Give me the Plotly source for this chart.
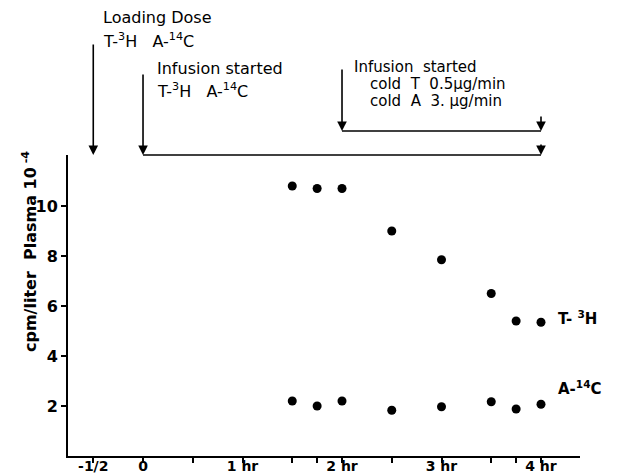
import plotly.graph_objects as go

# ---- data ----
times = [1.5, 1.75, 2.0, 2.5, 3.0, 3.5, 3.75, 4.0]
t3h = [10.8, 10.7, 10.7, 9.0, 7.85, 6.5, 5.4, 5.35]
a14c = [2.2, 2.0, 2.2, 1.83, 1.97, 2.17, 1.88, 2.07]

xtick_vals = [-0.5, 0, 0.5, 1, 1.5, 1.75, 2, 2.5, 3, 3.5, 3.75, 4]
xtick_text = ["-1/2", "0", "", "1 hr", "", "", "2 hr", "", "3 hr", "", "", "4 hr"]
ytick_vals = [2, 4, 6, 8, 10]

W, H = 617, 475
L, R, T, B = 68, 37, 155, 19
FONT = "DejaVu Sans"

def px(x):  # pixel -> paper x
    return (x - L) / (W - L - R)

def py(y):  # pixel -> paper y
    return (H - B - y) / (H - T - B)

fig = go.Figure()
fig.add_trace(go.Scatter(x=times, y=t3h, mode="markers",
                         marker=dict(color="black", size=9), name="T-3H"))
fig.add_trace(go.Scatter(x=times, y=a14c, mode="markers",
                         marker=dict(color="black", size=9), name="A-14C"))

ann = []
def text(x, y, s, size=16, weight="normal"):
    ann.append(dict(xref="paper", yref="paper", x=px(x), y=py(y), text=s,
                    showarrow=False, xanchor="left", yanchor="middle",
                    font=dict(family=FONT, size=size, color="black", weight=weight)))

def arrow(t, y_tip, y_tail):
    ann.append(dict(xref="x", yref="paper", x=t, y=py(y_tip), ax=0,
                    ay=y_tail - y_tip, axref="pixel", ayref="pixel",
                    showarrow=True, arrowhead=2, arrowsize=1.2, arrowwidth=1.6,
                    arrowcolor="black", text=""))

text(101, 17, "Loading Dose")
text(101, 40, "T-<sup>3</sup>H   A-<sup>14</sup>C")
text(155, 69, "Infusion started")
text(155, 91, "T-<sup>3</sup>H   A-<sup>14</sup>C")
text(352, 67, "Infusion  started", size=15)
text(368, 84, "cold  T  0.5\u03bcg/min", size=15)
text(368, 101, "cold  A  3. \u03bcg/min", size=15)
text(556, 318, "T- <sup>3</sup>H", weight="bold", size=15)
text(556, 388, "A-<sup>14</sup>C", weight="bold", size=15)

arrow(-0.5, 155, 43)
arrow(0, 155, 73)
arrow(4, 155, 143)
arrow(2, 131, 68)
arrow(4, 131, 115)

# y axis title
ann.append(dict(xref="paper", yref="paper", x=px(29), y=py(252),
                text="cpm/liter  Plasma 10<sup> -4</sup>", textangle=-90,
                showarrow=False, xanchor="center", yanchor="middle",
                font=dict(family=FONT, size=16, color="black", weight="bold")))

shapes = [
    dict(type="line", xref="x", yref="paper", x0=0, x1=4, y0=py(155), y1=py(155),
         line=dict(color="black", width=1.6)),
    dict(type="line", xref="x", yref="paper", x0=2, x1=4, y0=py(131), y1=py(131),
         line=dict(color="black", width=1.6)),
]

fig.update_layout(
    width=W, height=H,
    margin=dict(l=L, r=R, t=T, b=B, autoexpand=False),
    paper_bgcolor="white", plot_bgcolor="white",
    showlegend=False,
    annotations=ann, shapes=shapes,
    font=dict(family=FONT, size=14, color="black"),
    xaxis=dict(range=[-0.754, 4.392], tickvals=xtick_vals, ticktext=xtick_text,
               showgrid=False, zeroline=False, showline=True, linecolor="black",
               linewidth=2, ticks="outside", ticklen=5, tickwidth=1.5,
               tickcolor="black", automargin=False, ticklabelstandoff=-9,
               tickfont=dict(family=FONT, size=14, color="black", weight="bold")),
    yaxis=dict(range=[0, 12.04], tickvals=ytick_vals,
               showgrid=False, zeroline=False, showline=True, linecolor="black",
               linewidth=2, ticks="outside", ticklen=5, tickwidth=1.5,
               tickcolor="black", automargin=False,
               tickfont=dict(family=FONT, size=16, color="black", weight="bold")),
)

fig.write_html("out.html", config={"displayModeBar": False},
               post_script="document.body.style.margin='0px';document.body.style.overflow='hidden';")
